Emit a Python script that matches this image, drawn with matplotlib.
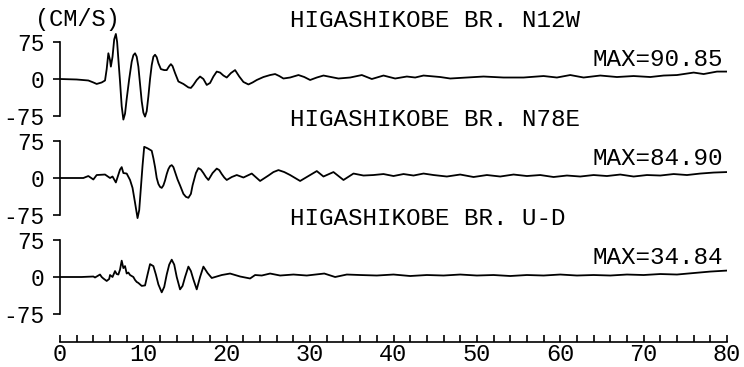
import matplotlib
matplotlib.use('Agg')
import matplotlib.pyplot as plt

# velocity records (time in s, velocity in cm/s)
t_n12w = [0, 2.0, 3.4, 4.0, 4.4, 5.0, 5.4, 5.6, 5.8, 6.0, 6.1, 6.3, 6.5, 6.7, 6.85, 7.0,
          7.2, 7.4, 7.6, 7.8, 8.0, 8.3, 8.6, 8.8, 9.0, 9.2, 9.4, 9.6, 9.8, 10.0, 10.2,
          10.4, 10.6, 10.8, 11.0, 11.2, 11.4, 11.6, 11.8, 12.1, 12.5, 12.8, 13.1, 13.3,
          13.5, 13.8, 14.2, 14.8, 15.4, 15.7, 16.0, 16.4, 16.8, 17.2, 17.6, 18.0, 18.4,
          18.8, 19.2, 19.6, 20.0, 20.5, 21.0, 21.5, 22.0, 22.6, 23.1, 23.6, 24.4, 25.2,
          25.8, 26.3, 26.8, 27.6, 28.6, 29.3, 30.0, 30.8, 31.6, 32.5, 33.4, 34.8, 36.2,
          37.4, 38.8, 40.2, 41.6, 42.6, 43.6, 45.6, 46.8, 48.8, 50.8, 53.2, 55.6, 58.0,
          59.6, 61.2, 62.8, 64.8, 66.8, 68.8, 70.8, 72.4, 74.0, 76.0, 77.2, 78.8, 80.0]
v_n12w = [0, -1, -3, -7, -10, -7, -3, 20, 52, 38, 25, 45, 80, 91, 75, 40,
          -5, -55, -82, -70, -40, 0, 35, 48, 52, 45, 25, -10, -45, -68, -76,
          -65, -35, 0, 28, 45, 49, 44, 32, 20, 18, 18, 26, 30,
          26, 12, -5, -10, -17, -18, -12, -2, 5, 0, -12, -8, 5,
          15, 13, 7, 3, 12, 18, 5, -6, -11, -7, -2, 4, 8,
          10, 6, 1, 3, 8, 4, -2, 3, 7, 4, 1, 3, 8,
          0, 7, 1, 5, 3, 7, 4, 1, 3, 5, 3, 3, 6,
          3, 8, 3, 7, 4, 6, 4, 7, 8, 13, 10, 15, 15]

t_n78e = [0, 2.8, 3.4, 4.0, 4.4, 5.4, 6.0, 6.3, 6.7, 7.2, 7.4, 7.6, 8.0, 8.4, 8.7, 9.0,
          9.3, 9.5, 9.7, 9.9, 10.1, 10.5, 11.0, 11.2, 11.4, 11.6, 11.8, 12.0, 12.2, 12.4,
          12.6, 12.8, 13.0, 13.2, 13.4, 13.6, 13.8, 14.1, 14.4, 14.8, 15.1, 15.4, 15.7,
          15.9, 16.3, 16.6, 16.9, 17.2, 17.5, 17.8, 18.3, 18.8, 19.1, 19.4, 19.7, 20.0,
          20.6, 21.2, 22.0, 23.0, 24.0, 25.0, 25.6, 26.2, 26.9, 27.6, 28.2, 28.8, 29.8,
          30.8, 31.6, 32.8, 33.4, 34.0, 35.2, 36.4, 37.6, 38.8, 40.0, 41.2, 42.4, 43.6,
          44.8, 46.4, 48.0, 49.6, 51.2, 52.8, 54.4, 56.0, 57.6, 59.2, 60.8, 62.4, 64.0,
          65.6, 67.2, 68.8, 70.4, 72.0, 73.6, 75.2, 76.8, 78.4, 80.0]
v_n78e = [0, 0, 4, -3, 6, 7, 0, 3, -9, 17, 22, 10, 9, -4, -20, -50,
          -81, -65, -20, 25, 63, 60, 55, 40, 22, 0, -12, -18, -20, -15,
          -5, 8, 18, 24, 26, 22, 12, -3, -15, -32, -38, -40, -32,
          -15, 10, 20, 17, 10, 2, -4, 10, 19, 16, 8, 1, -4,
          2, 6, 1, 9, -6, 5, 12, 16, 12, 6, 0, -6, 4,
          14, 3, 12, 4, -4, 9, 5, 6, 8, 4, 8, 5, 9,
          6, 3, 7, 2, 6, 3, 7, 4, 6, 2, 5, 3, 6,
          4, 7, 3, 6, 5, 8, 6, 9, 11, 12]

t_ud = [0, 2.6, 4.0, 4.2, 4.6, 4.8, 5.0, 5.2, 5.6, 5.9, 6.0, 6.3, 6.6, 6.8, 7.0, 7.2,
        7.4, 7.6, 7.8, 8.0, 8.2, 8.4, 8.6, 8.8, 9.0, 9.2, 9.4, 9.8, 10.2, 10.5, 10.8,
        11.2, 11.5, 11.8, 12.2, 12.5, 12.8, 13.1, 13.4, 13.7, 14.0, 14.4, 14.7, 15.0,
        15.4, 15.7, 16.0, 16.4, 16.8, 17.2, 17.7, 18.2, 19.4, 20.4, 21.6, 22.8, 23.4,
        24.2, 25.2, 26.4, 28.0, 29.6, 31.7, 33.0, 34.4, 36.0, 38.0, 40.0, 42.0, 44.0,
        46.0, 48.0, 50.0, 52.0, 54.0, 56.0, 58.0, 60.0, 62.0, 64.0, 66.0, 68.0, 70.0,
        72.0, 74.0, 76.0, 78.0, 80.0]
v_ud = [0, 0, 1, -1, 3, 5, 0, -3, -8, -4, 4, 0, 12, 6, 5, 15,
        33, 18, 22, 7, 9, 4, 2, 0, -6, -10, -12, -18, -17, 5, 26,
        22, 5, -15, -31, -20, 5, 25, 35, 25, 0, -25, -18, 0,
        21, 12, -5, -25, 0, 21, 8, -2, 4, 7, 1, -3, 4,
        3, 7, 3, 5, 3, 7, 0, 5, 4, 3, 5, 2, 4,
        3, 5, 3, 4, 2, 4, 3, 5, 3, 4, 3, 5, 4,
        6, 5, 8, 11, 13]

titles = ["HIGASHIKOBE BR. N12W", "HIGASHIKOBE BR. N78E", "HIGASHIKOBE BR. U-D"]
max_labels = ["MAX=90.85", "MAX=84.90", "MAX=34.84"]
y_ticks = [75, 0, -75]
x_major = list(range(0, 81, 10))
x_minor = list(range(0, 81, 2))

series = [(t_n12w, v_n12w), (t_n78e, v_n78e), (t_ud, v_ud)]

MONO = 'Liberation Mono'
fig = plt.figure(figsize=(7.44, 3.67), dpi=100)

# axes boxes in pixel terms: x=0 at px 60, x=80 at px 727, each row 99 px tall
W, H = 744.0, 367.0
bottoms = [128.5, 227.5, 326.5]
axes = []
for i, (t, v) in enumerate(series):
    ax = fig.add_axes([60 / W, (H - bottoms[i]) / H, 667 / W, 99 / H])
    ax.patch.set_visible(False)
    ax.plot(t, v, color='black', lw=1.3, solid_joinstyle='round')
    ax.set_xlim(0, 80)
    ax.set_ylim(-100, 100)
    for side in ['top', 'right', 'bottom']:
        ax.spines[side].set_visible(False)
    ax.spines['left'].set_bounds(-75, 75)
    ax.spines['left'].set_linewidth(1.2)
    ax.set_yticks(y_ticks)
    ax.set_yticklabels([str(y) for y in y_ticks], fontfamily=MONO, fontsize=16.5)
    ax.tick_params(axis='y', direction='out', length=5, width=1.2, pad=6)
    ax.tick_params(axis='x', bottom=False, labelbottom=False)
    ax.text(27.6, 105, titles[i], fontfamily=MONO, fontsize=17.5,
            ha='left', va='baseline', clip_on=False)
    ax.text(79.5, 26, max_labels[i], fontfamily=MONO, fontsize=17.5,
            ha='right', va='baseline', clip_on=False)
    axes.append(ax)

# units label above the first trace
axes[0].text(-3.0, 107, "(CM/S)", fontfamily=MONO, fontsize=17,
             ha='left', va='baseline', clip_on=False)

# time axis below the last trace, ticks pointing up
ax = axes[-1]
ax.spines['bottom'].set_visible(True)
ax.spines['bottom'].set_position(('outward', 11))
ax.spines['bottom'].set_linewidth(1.2)
ax.set_xticks(x_major)
ax.set_xticks(x_minor, minor=True)
ax.set_xticklabels([str(x) for x in x_major], fontfamily=MONO, fontsize=17)
ax.tick_params(axis='x', which='both', bottom=True, labelbottom=True,
               direction='in', length=5, width=1.2, pad=1)

fig.savefig('out.png', dpi=100)
